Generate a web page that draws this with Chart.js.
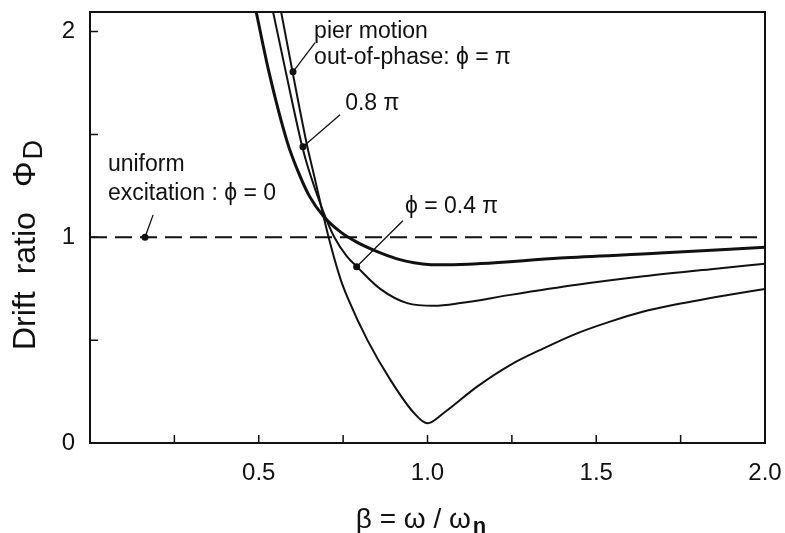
<!DOCTYPE html>
<html>
<head>
<meta charset="utf-8">
<script src="https://cdn.jsdelivr.net/npm/chart.js@4.4.1/dist/chart.umd.min.js"></script>
<style>
  html, body { margin: 0; padding: 0; background: #fff; }
  canvas { display: block; }
</style>
</head>
<body>
<canvas id="driftChart" width="785" height="533"></canvas>
<script>
// values: beta = omega / omega_n against drift ratio Phi_D
const betaUniform = [0, 2];
const driftUniform = [1, 1];

const betaPhi04 = [0.475, 0.491, 0.53, 0.585, 0.614, 0.65, 0.693, 0.743, 0.792, 0.851, 0.91, 0.96, 1.01, 1.06, 1.157, 1.393, 1.689, 2.0];
const driftPhi04 = [2.23, 2.107, 1.805, 1.46, 1.33, 1.2, 1.10, 1.025, 0.975, 0.93, 0.895, 0.876, 0.867, 0.866, 0.872, 0.899, 0.923, 0.952];

const betaPhi08 = [0.525, 0.541, 0.58, 0.629, 0.648, 0.69, 0.724, 0.76, 0.792, 0.861, 0.94, 1.019, 1.098, 1.246, 1.443, 1.64, 1.84, 2.0];
const driftPhi08 = [2.23, 2.107, 1.805, 1.44, 1.328, 1.13, 1.0, 0.91, 0.855, 0.748, 0.68, 0.667, 0.68, 0.72, 0.769, 0.81, 0.845, 0.871];

const betaPhiPi = [0.55, 0.565, 0.60, 0.644, 0.66, 0.707, 0.743, 0.762, 0.822, 0.89, 0.96, 1.0, 1.048, 1.147, 1.246, 1.344, 1.443, 1.541, 1.64, 1.72, 1.886, 2.0];
const driftPhiPi = [2.23, 2.107, 1.805, 1.44, 1.328, 1.0, 0.793, 0.712, 0.50, 0.307, 0.146, 0.096, 0.146, 0.274, 0.38, 0.46, 0.533, 0.59, 0.639, 0.668, 0.718, 0.749];

const xTickLabels = ['0.5', '1.0', '1.5', '2.0'];
const yTickLabels = ['0', '1', '2'];

const ink = '#111';
const family = '"Liberation Sans", Arial, Helvetica, sans-serif';

// callouts, placed in data units
const callouts = [
    { lines: [['uniform', 0.053, 1.32], ['excitation : \u03D5 = 0', 0.053, 1.182]], from: [0.187, 1.109], to: [0.163, 1.0] },
    { lines: [['pier motion', 0.664, 1.97], ['out-of-phase: \u03D5 = \u03C0', 0.664, 1.843]], from: [0.667, 1.946], to: [0.6015, 1.804] },
    { lines: [['0.8 \u03C0', 0.756, 1.62]], from: [0.741, 1.595], to: [0.631, 1.44] },
    { lines: [['\u03D5 = 0.4 \u03C0', 0.933, 1.119]], from: [0.927, 1.08], to: [0.79, 0.857] }
];

function toPoints(xs, ys) {
    return xs.map((x, i) => ({x: x, y: ys[i]}));
}

function noScalePadding(s) {
    s.paddingTop = 0;
    s.paddingBottom = 0;
    s.paddingLeft = 0;
    s.paddingRight = 0;
}

const framePlugin = {
    id: 'frame',
    afterDraw(chart) {
        const {ctx, chartArea: a, scales: {x, y}} = chart;
        ctx.save();
        ctx.strokeStyle = ink;
        ctx.lineWidth = 2;
        ctx.strokeRect(a.left, a.top, a.right - a.left, a.bottom - a.top);
        ctx.lineWidth = 1.5;
        ctx.beginPath();
        x.ticks.forEach(t => {
            if (t.value > x.min && t.value < x.max) {
                const px = x.getPixelForValue(t.value);
                ctx.moveTo(px, a.bottom);
                ctx.lineTo(px, a.bottom - 8);
            }
        });
        y.ticks.forEach(t => {
            if (t.value > y.min && t.value < y.max) {
                const py = y.getPixelForValue(t.value);
                ctx.moveTo(a.left, py);
                ctx.lineTo(a.left + 8, py);
            }
        });
        ctx.stroke();
        ctx.restore();
    }
};

const calloutPlugin = {
    id: 'callouts',
    afterDraw(chart) {
        const {ctx, scales: {x, y}} = chart;
        ctx.save();
        ctx.fillStyle = ink;
        ctx.strokeStyle = ink;
        ctx.font = '23px ' + family;
        ctx.textAlign = 'left';
        ctx.textBaseline = 'alphabetic';
        callouts.forEach(c => {
            c.lines.forEach(([txt, bx, by]) => {
                ctx.fillText(txt, x.getPixelForValue(bx), y.getPixelForValue(by));
            });
            const x0 = x.getPixelForValue(c.from[0]), y0 = y.getPixelForValue(c.from[1]);
            const x1 = x.getPixelForValue(c.to[0]), y1 = y.getPixelForValue(c.to[1]);
            ctx.lineWidth = 1.3;
            ctx.beginPath();
            ctx.moveTo(x0, y0);
            ctx.lineTo(x1, y1);
            ctx.stroke();
            ctx.beginPath();
            ctx.arc(x1, y1, 3.5, 0, Math.PI * 2);
            ctx.fill();
        });
        ctx.restore();
    }
};

const titlePlugin = {
    id: 'axisTitles',
    afterDraw(chart) {
        const {ctx} = chart;
        ctx.save();
        ctx.fillStyle = ink;
        ctx.textBaseline = 'alphabetic';
        ctx.textAlign = 'left';

        // x title: beta = omega / omega_n
        ctx.font = '28px ' + family;
        const main = '\u03B2 = \u03C9 / \u03C9';
        const wMain = ctx.measureText(main).width;
        ctx.font = 'bold 22px ' + family;
        const wSub = ctx.measureText('n').width;
        const left = 421 - (wMain + wSub + 2) / 2;
        ctx.font = '28px ' + family;
        ctx.fillText(main, left, 528);
        ctx.font = 'bold 22px ' + family;
        ctx.fillText('n', left + wMain + 2, 533);

        // y title: Drift ratio Phi_D
        ctx.translate(23, 240);
        ctx.rotate(-Math.PI / 2);
        ctx.font = '32px ' + family;
        let pos = -110;
        ctx.fillText('Drift', pos, 12);
        pos += ctx.measureText('Drift').width + 17;
        ctx.fillText('ratio', pos, 12);
        pos += ctx.measureText('ratio').width + 25;
        ctx.fillText('\u03A6', pos, 12);
        pos += ctx.measureText('\u03A6').width + 2;
        ctx.font = '27px ' + family;
        ctx.fillText('D', pos, 19);
        ctx.restore();
    }
};

new Chart(document.getElementById('driftChart'), {
    type: 'scatter',
    data: {
        datasets: [
            {
                label: 'uniform excitation',
                data: toPoints(betaUniform, driftUniform),
                showLine: true,
                borderColor: ink,
                borderWidth: 2,
                borderDash: [17, 8],
                pointRadius: 0
            },
            {
                label: '\u03D5 = 0.4\u03C0',
                data: toPoints(betaPhi04, driftPhi04),
                showLine: true,
                borderColor: ink,
                borderWidth: 3,
                cubicInterpolationMode: 'monotone',
                pointRadius: 0
            },
            {
                label: '\u03D5 = 0.8\u03C0',
                data: toPoints(betaPhi08, driftPhi08),
                showLine: true,
                borderColor: ink,
                borderWidth: 2,
                cubicInterpolationMode: 'monotone',
                pointRadius: 0
            },
            {
                label: '\u03D5 = \u03C0',
                data: toPoints(betaPhiPi, driftPhiPi),
                showLine: true,
                borderColor: ink,
                borderWidth: 2,
                cubicInterpolationMode: 'monotone',
                pointRadius: 0
            }
        ]
    },
    options: {
        responsive: false,
        animation: false,
        events: [],
        layout: {
            padding: {top: 12, right: 20, left: 0, bottom: 0},
            autoPadding: false
        },
        scales: {
            x: {
                type: 'linear',
                min: 0,
                max: 2,
                afterFit: s => { s.height = 90; noScalePadding(s); },
                grid: {display: false, drawTicks: false},
                border: {display: false},
                ticks: {
                    stepSize: 0.25,
                    autoSkip: false,
                    includeBounds: false,
                    maxRotation: 0,
                    padding: 16,
                    color: ink,
                    font: {family: family, size: 24},
                    callback: v => {
                        const lbl = v.toFixed(1);
                        return (v % 0.5 === 0 && xTickLabels.includes(lbl)) ? lbl : '';
                    }
                }
            },
            y: {
                type: 'linear',
                min: 0,
                max: 2.095,
                afterFit: s => { s.width = 90; noScalePadding(s); },
                grid: {display: false, drawTicks: false},
                border: {display: false},
                ticks: {
                    stepSize: 0.5,
                    autoSkip: false,
                    includeBounds: false,
                    padding: 15,
                    color: ink,
                    font: {family: family, size: 24},
                    callback: v => (Number.isInteger(v) && yTickLabels.includes(String(v))) ? String(v) : ''
                }
            }
        },
        plugins: {
            legend: {display: false},
            tooltip: {enabled: false}
        }
    },
    plugins: [framePlugin, calloutPlugin, titlePlugin]
});
</script>
</body>
</html>
